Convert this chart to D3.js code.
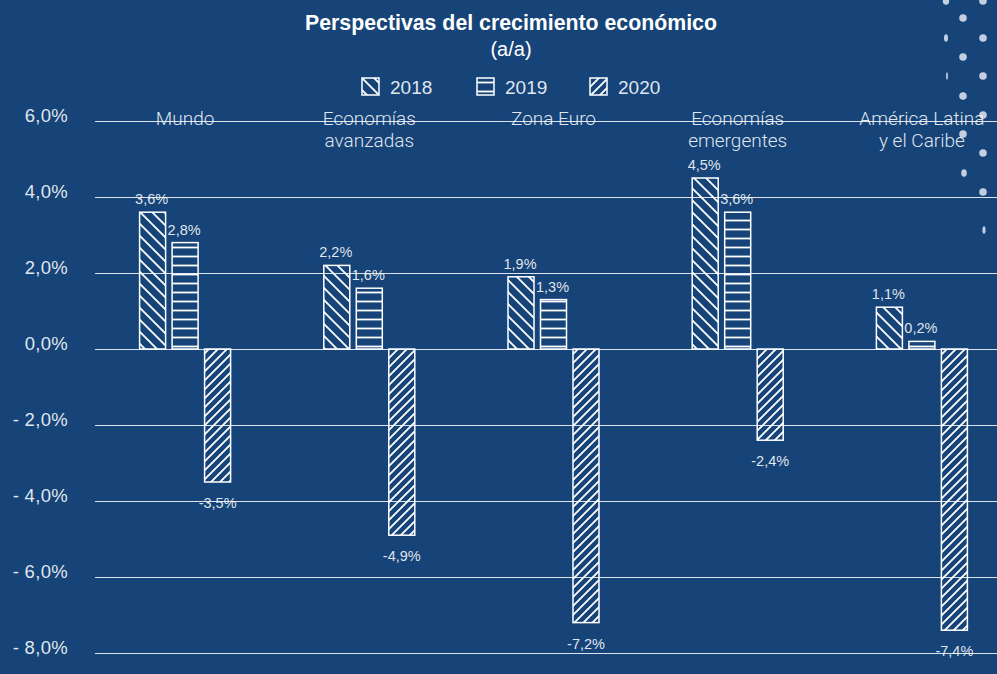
<!DOCTYPE html>
<html>
<head>
<meta charset="utf-8">
<script src="https://cdn.jsdelivr.net/npm/d3@7"></script>
<style>
  html, body { margin: 0; padding: 0; background: #164478; }
  svg { display: block; }
</style>
</head>
<body>
<svg id="chart" width="997" height="674"></svg>
<script>
// ---- data ----
const categories = ["Mundo", "Economías avanzadas", "Zona Euro", "Economías emergentes", "América Latina y el Caribe"];
const categoryLines = [["Mundo"], ["Economías", "avanzadas"], ["Zona Euro"], ["Economías", "emergentes"], ["América Latina", "y el Caribe"]];
const years = ["2018", "2019", "2020"];
const values2018 = [3.6, 2.2, 1.9, 4.5, 1.1];
const values2019 = [2.8, 1.6, 1.3, 3.6, 0.2];
const values2020 = [-3.5, -4.9, -7.2, -2.4, -7.4];
const yTicks = [6, 4, 2, 0, -2, -4, -6, -8];
const yTickLabels = ["6,0%", "4,0%", "2,0%", "0,0%", "- 2,0%", "- 4,0%", "- 6,0%", "- 8,0%"];
const title = "Perspectivas del crecimiento económico";
const subtitle = "(a/a)";

const seriesValues = [values2018, values2019, values2020];
const fmt = v => d3.format(".1f")(v).replace(".", ",").replace("−", "-") + "%";

// ---- setup ----
const W = 997, H = 674;
const svg = d3.select("#chart");
const bg = "#164478";
const txt = "rgba(255,255,255,0.88)";
const fontMain = "'Liberation Sans', Arial, sans-serif";

svg.append("rect").attr("width", W).attr("height", H).attr("fill", bg);

// patterns
const defs = svg.append("defs");
function pat(id, size, d) {
  const p = defs.append("pattern").attr("id", id).attr("patternUnits", "userSpaceOnUse")
    .attr("width", size).attr("height", size);
  p.append("path").attr("d", d).attr("stroke", "#fff").attr("stroke-width", 1.8).attr("fill", "none");
}
const s1 = 12, s2 = 9, s3 = 9;
pat("p2018", s1, `M0,0L${s1},${s1}M${-s1/2},${s1/2}L${s1/2},${s1*1.5}M${s1/2},${-s1/2}L${s1*1.5},${s1/2}`);
pat("p2019", s2, `M0,${s2/2}L${s2},${s2/2}`);
pat("p2020", s3, `M0,${s3}L${s3},0M${-s3/2},${s3/2}L${s3/2},${-s3/2}M${s3/2},${s3*1.5}L${s3*1.5},${s3/2}`);
const patIds = ["p2018", "p2019", "p2020"];

// decorative dots (top-right)
const deco = [
  [983, 1, 3.8], [983, 38, 3.8], [983, 76, 3.8], [983, 115, 3.8], [983, 153, 3.8], [983, 192, 3.8], [984, 230, 1.6],
  [963, 18, 3.8], [963, 57, 3.8], [963, 96, 3.8], [963, 134, 3.8], [964, 173, 2.8],
  [946, 1, 3.2], [946, 38, 2.0], [947, 76, 0.9]
];
svg.append("g").selectAll("ellipse").data(deco).join("ellipse")
  .attr("cx", d => d[0]).attr("cy", d => d[1]).attr("rx", d => d[2]).attr("ry", 3.8)
  .attr("fill", "#c3cfe0");

// scales
const x = d3.scaleBand().domain(categories).range([93, 1014]).padding(0);
const inner = d3.scaleBand().domain(years).range([-45.5, 45.5]).paddingInner(0.2).paddingOuter(0);
const y = d3.scaleLinear().domain([-8, 6]).range([653, 121]);

// grid / y axis
const axis = d3.axisLeft(y).tickValues(yTicks)
  .tickFormat((d, i) => yTickLabels[i]).tickSize(-(W - 95)).tickPadding(27);
const gA = svg.append("g").attr("transform", "translate(95,0)").call(axis);
gA.select(".domain").remove();
gA.selectAll(".tick line").attr("stroke", "#fff").attr("stroke-opacity", 0.85).attr("stroke-width", 1.2);
gA.selectAll(".tick text").attr("fill", txt).attr("font-family", fontMain)
  .attr("font-size", 18.5).attr("letter-spacing", 0.3).attr("dy", "0.05em");

// bars
const rows = [];
categories.forEach((c, ci) => years.forEach((yr, yi) => rows.push({ c, yr, yi, v: seriesValues[yi][ci] })));
const cx = d => x(d.c) + x.bandwidth() / 2 + inner(d.yr);

svg.append("g").selectAll("rect").data(rows).join("rect")
  .attr("x", d => cx(d))
  .attr("y", d => Math.min(y(d.v), y(0)))
  .attr("width", inner.bandwidth())
  .attr("height", d => Math.abs(y(d.v) - y(0)))
  .attr("fill", d => `url(#${patIds[d.yi]})`)
  .attr("stroke", "#fff").attr("stroke-width", 1.5);

// value labels
svg.append("g").selectAll("text").data(rows).join("text")
  .attr("x", d => cx(d) + inner.bandwidth() / 2 - (d.v > 0 ? 1 : 0))
  .attr("y", d => d.v >= 0 ? y(d.v) - 8 : y(d.v) + 26)
  .attr("text-anchor", "middle")
  .attr("fill", txt).attr("font-family", fontMain).attr("font-size", 14.5)
  .text(d => fmt(d.v));

// category labels
const gc = svg.append("g");
categories.forEach((c, ci) => {
  const t = gc.append("text")
    .attr("x", x(c) + x.bandwidth() / 2).attr("y", 125)
    .attr("text-anchor", "middle").attr("fill", txt)
    .attr("font-family", "Roboto, sans-serif").attr("font-weight", 300).attr("font-size", 19);
  categoryLines[ci].forEach((ln, li) => t.append("tspan")
    .attr("x", x(c) + x.bandwidth() / 2).attr("dy", li === 0 ? 0 : 22).text(ln));
});

// title
svg.append("text").attr("x", 511).attr("y", 30).attr("text-anchor", "middle")
  .attr("fill", "#fff").attr("font-family", fontMain).attr("font-weight", "bold").attr("font-size", 21.3)
  .text(title);
svg.append("text").attr("x", 511).attr("y", 56).attr("text-anchor", "middle")
  .attr("fill", "#fff").attr("font-family", fontMain).attr("font-size", 20)
  .text(subtitle);

// legend
const legX = [362, 477, 590];
const lg = svg.append("g").selectAll("g").data(years).join("g")
  .attr("transform", (d, i) => `translate(${legX[i]},78)`);
lg.append("rect").attr("width", 17).attr("height", 17)
  .attr("fill", (d, i) => `url(#${patIds[i]})`).attr("stroke", "#fff").attr("stroke-width", 1.5);
lg.append("text").attr("x", 28).attr("y", 16).attr("fill", txt)
  .attr("font-family", fontMain).attr("font-size", 19).text(d => d);
</script>
</body>
</html>
